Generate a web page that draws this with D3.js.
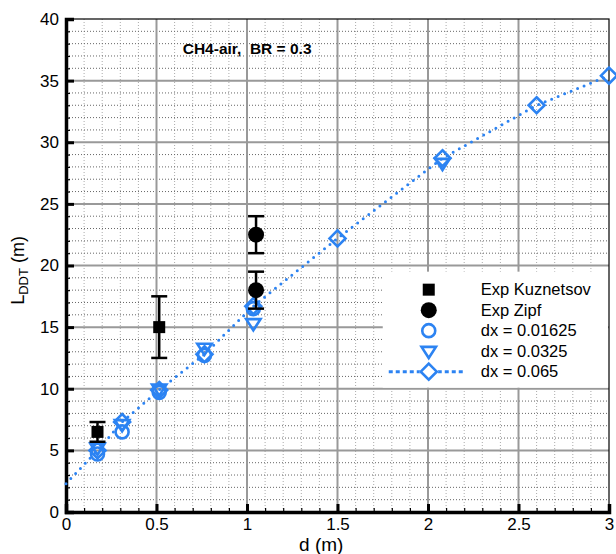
<!DOCTYPE html>
<html>
<head>
<meta charset="utf-8">
<script src="https://cdn.jsdelivr.net/npm/d3@7"></script>
<style>
  body { margin: 0; background: #fff; }
  svg text { font-family: "Liberation Sans", Arial, sans-serif; }
</style>
</head>
<body>
<div id="graph1"></div>
<script>
// ---- data ----
const xTicks = [0, 0.5, 1, 1.5, 2, 2.5, 3];
const yTicks = [0, 5, 10, 15, 20, 25, 30, 35, 40];

// Exp Kuznetsov (squares, error bars)
const kuzD = [0.174, 0.515];
const kuzL = [6.5, 15.0];
const kuzErr = [0.8, 2.5];

// Exp Zipf (circles, error bars)
const zipfD = [1.05, 1.05];
const zipfL = [22.5, 18.0];
const zipfErr = [1.5, 1.5];

// dx = 0.01625 (open circles)
const c1D = [0.174, 0.31, 0.515, 0.765, 1.035];
const c1L = [4.7, 6.5, 9.7, 12.7, 16.5];

// dx = 0.0325 (down triangles)
const t2D = [0.174, 0.31, 0.515, 0.765, 1.035, 2.08];
const t2L = [5.2, 7.1, 10.0, 13.3, 15.3, 28.3];

// dx = 0.065 (diamonds + dotted line)
const d3D = [0.174, 0.31, 0.515, 0.765, 1.035, 1.5, 2.08, 2.6, 3.0];
const d3L = [5.0, 7.3, 9.9, 12.8, 16.7, 22.2, 28.7, 33.0, 35.4];
const lineStartD = 0, lineStartL = 2.3;

const blue = "#2c83f2";

const width = 616, height = 554;
const margin = {left: 66, right: 7, top: 19, bottom: 42};
const graph_width = width - margin.left - margin.right;
const graph_height = height - margin.top - margin.bottom;

let svg0 = d3.select("#graph1").append("svg")
    .attr("width", width).attr("height", height);
let svg = svg0.append("g")
    .attr("transform", `translate(${margin.left},${margin.top})`);

let x = d3.scaleLinear().domain([0, 3]).range([0, graph_width]);
let y = d3.scaleLinear().domain([0, 40]).range([graph_height, 0]);

// minor grid (dotted)
svg.append("g").selectAll("line").data(d3.range(1, 30).map(i => i / 10).filter(v => Math.round(v * 10) % 5 !== 0))
    .enter().append("line")
    .attr("x1", d => x(d)).attr("x2", d => x(d))
    .attr("y1", 0).attr("y2", graph_height)
    .attr("stroke", "#aaa").attr("stroke-width", 1).attr("stroke-dasharray", "1,2");
svg.append("g").selectAll("line").data(d3.range(1, 40).filter(v => v % 5 !== 0))
    .enter().append("line")
    .attr("y1", d => y(d)).attr("y2", d => y(d))
    .attr("x1", 0).attr("x2", graph_width)
    .attr("stroke", "#666").attr("stroke-width", 1).attr("stroke-dasharray", "1,2");

// major grid
svg.append("g").selectAll("line").data(xTicks.slice(1, -1))
    .enter().append("line")
    .attr("x1", d => x(d)).attr("x2", d => x(d))
    .attr("y1", 0).attr("y2", graph_height)
    .attr("stroke", "#999").attr("stroke-width", 2);
svg.append("g").selectAll("line").data(yTicks.slice(1, -1))
    .enter().append("line")
    .attr("y1", d => y(d)).attr("y2", d => y(d))
    .attr("x1", 0).attr("x2", graph_width)
    .attr("stroke", "#999").attr("stroke-width", 2);

// frame
svg.append("rect").attr("x", 0).attr("y", 0)
    .attr("width", graph_width).attr("height", graph_height)
    .attr("fill", "none").attr("stroke", "#000").attr("stroke-width", 1.2);

// axes with inward ticks
let xAxis = svg.append("g").attr("transform", `translate(0,${graph_height})`)
    .call(d3.axisBottom(x).tickValues(xTicks).tickSize(-8).tickPadding(6)
        .tickFormat(d => d3.format("")(d)));
let xMinor = svg.append("g").attr("transform", `translate(0,${graph_height})`)
    .call(d3.axisBottom(x).tickValues(d3.range(1, 30).map(i => i / 10)).tickSize(-4).tickFormat(""));
let yAxis = svg.append("g")
    .call(d3.axisLeft(y).tickValues(yTicks).tickSize(-8).tickPadding(7));
let yMinor = svg.append("g")
    .call(d3.axisLeft(y).tickValues(d3.range(1, 40)).tickSize(-4).tickFormat(""));

[xAxis, yAxis].forEach(a => {
    a.select(".domain").attr("stroke-width", 3.5);
    a.selectAll(".tick line").attr("stroke-width", 3);
    a.selectAll("text").style("font-size", "17px").attr("fill", "#000");
});
[xMinor, yMinor].forEach(a => {
    a.select(".domain").remove();
    a.selectAll(".tick line").attr("stroke-width", 1.2);
});

// dotted line for dx = 0.065
let linePts = [[lineStartD, lineStartL]].concat(d3D.map((d, i) => [d, d3L[i]]));
svg.append("path").datum(linePts)
    .attr("d", d3.line().x(d => x(d[0])).y(d => y(d[1])))
    .attr("fill", "none").attr("stroke", blue).attr("stroke-width", 3)
    .attr("stroke-linecap", "round").attr("stroke-dasharray", "0,7");

// marker helpers
function circleMark(g, cx, cy) {
    g.append("circle").attr("cx", cx).attr("cy", cy).attr("r", 6.5)
        .attr("fill", "none").attr("stroke", blue).attr("stroke-width", 2.6);
}
function triMark(g, cx, cy) {
    let s = 7.2;
    g.append("path")
        .attr("d", `M${cx - s},${cy - s * 0.6}L${cx + s},${cy - s * 0.6}L${cx},${cy + s * 0.95}Z`)
        .attr("fill", "none").attr("stroke", blue).attr("stroke-width", 2.6);
}
function diaMark(g, cx, cy) {
    let s = 8;
    g.append("path")
        .attr("d", `M${cx},${cy - s}L${cx + s},${cy}L${cx},${cy + s}L${cx - s},${cy}Z`)
        .attr("fill", "none").attr("stroke", blue).attr("stroke-width", 2.6);
}
function errBar(g, cx, lo, hi) {
    g.append("line").attr("x1", cx).attr("x2", cx).attr("y1", lo).attr("y2", hi)
        .attr("stroke", "#000").attr("stroke-width", 2.5);
    [lo, hi].forEach(v => g.append("line").attr("x1", cx - 8).attr("x2", cx + 8)
        .attr("y1", v).attr("y2", v).attr("stroke", "#000").attr("stroke-width", 2.5));
}

let marks = svg.append("g");
c1D.forEach((d, i) => circleMark(marks, x(d), y(c1L[i])));
t2D.forEach((d, i) => triMark(marks, x(d), y(t2L[i])));
d3D.forEach((d, i) => diaMark(marks, x(d), y(d3L[i])));

let exp = svg.append("g");
kuzD.forEach((d, i) => {
    errBar(exp, x(d), y(kuzL[i] - kuzErr[i]), y(kuzL[i] + kuzErr[i]));
    exp.append("rect").attr("x", x(d) - 6).attr("y", y(kuzL[i]) - 6)
        .attr("width", 12).attr("height", 12).attr("fill", "#000");
});
zipfD.forEach((d, i) => {
    errBar(exp, x(d), y(zipfL[i] - zipfErr[i]), y(zipfL[i] + zipfErr[i]));
    exp.append("circle").attr("cx", x(d)).attr("cy", y(zipfL[i])).attr("r", 8).attr("fill", "#000");
});

// annotation
svg.append("text").attr("x", x(0.645)).attr("y", y(37.2))
    .style("font-size", "15.5px").style("font-weight", "bold")
    .attr("xml:space", "preserve")
    .text("CH4-air,  BR = 0.3");

// legend
let leg = svg.append("g").attr("transform", `translate(${x(1.75)},${y(19.5)})`);
leg.append("rect").attr("x", 0).attr("y", 0)
    .attr("width", graph_width - x(1.75) - 1).attr("height", 116).attr("fill", "#fff");
const legNames = ["Exp Kuznetsov", "Exp Zipf", "dx = 0.01625", "dx = 0.0325", "dx = 0.065"];
legNames.forEach((n, i) => {
    let cy = 18 + i * 20.5, cx = 46;
    if (i === 0) leg.append("rect").attr("x", cx - 6).attr("y", cy - 6).attr("width", 12).attr("height", 12).attr("fill", "#000");
    if (i === 1) leg.append("circle").attr("cx", cx).attr("cy", cy).attr("r", 8).attr("fill", "#000");
    if (i === 2) circleMark(leg, cx, cy);
    if (i === 3) triMark(leg, cx, cy);
    if (i === 4) {
        leg.append("line").attr("x1", 6).attr("x2", 82).attr("y1", cy).attr("y2", cy)
            .attr("stroke", blue).attr("stroke-width", 3).attr("stroke-dasharray", "4,3");
        leg.append("rect").attr("x", cx - 7).attr("y", cy - 7).attr("width", 14).attr("height", 14)
            .attr("fill", "#fff").attr("transform", `rotate(45,${cx},${cy})`);
        diaMark(leg, cx, cy);
    }
    leg.append("text").attr("x", 98).attr("y", cy).attr("dy", "0.35em")
        .style("font-size", "16.5px").text(n);
});

// axis labels
svg0.append("text").attr("x", margin.left + x(1.41)).attr("y", 551)
    .style("text-anchor", "middle").style("font-size", "19px").text("d (m)");
let yl = svg0.append("text")
    .attr("transform", `translate(24,${margin.top + y(19.6)}) rotate(-90)`)
    .attr("xml:space", "preserve")
    .style("text-anchor", "middle").style("font-size", "18px");
yl.append("tspan").text("L");
yl.append("tspan").attr("baseline-shift", "-4").style("font-size", "13px").text("DDT");
yl.append("tspan").text(" (m)");
</script>
</body>
</html>
